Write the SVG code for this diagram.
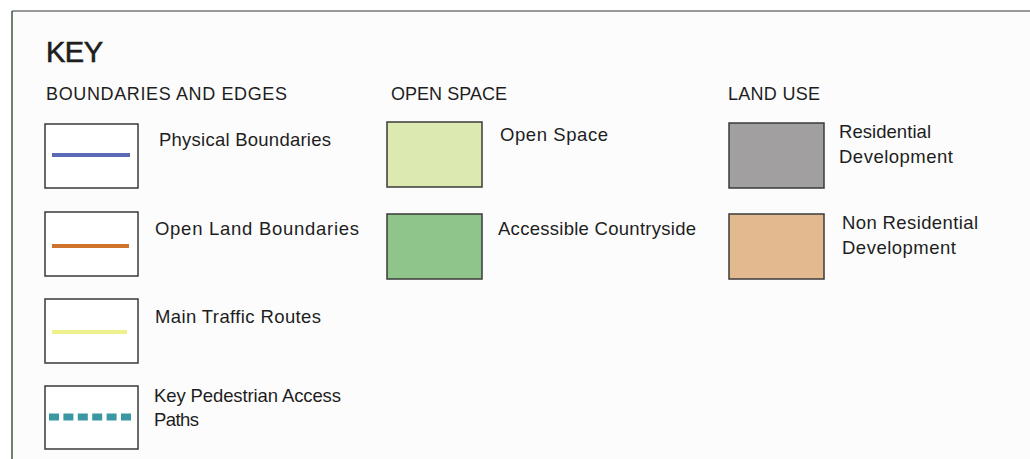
<svg xmlns="http://www.w3.org/2000/svg" width="1030" height="459" viewBox="0 0 1030 459">
<style>
text{font-family:"Liberation Sans","DejaVu Sans",sans-serif;fill:#1e1e1e}
.h{font-size:18px}
.l{font-size:18.5px}
.box{stroke:#3a3a3a;stroke-width:1.5}
</style>
<rect width="1030" height="459" fill="#ffffff"/>
<rect x="12" y="11" width="1018" height="448" fill="#fcfcfc"/>
<line x1="12" y1="11" x2="1030" y2="11" stroke="#777" stroke-width="1.5"/>
<line x1="12" y1="11" x2="12" y2="459" stroke="#3d5a3d" stroke-width="1.5"/>
<text x="46" y="62" font-size="29" stroke="#1e1e1e" stroke-width="0.6" textLength="57">KEY</text>
<text class="h" x="46" y="100" textLength="241">BOUNDARIES AND EDGES</text>
<text class="h" x="391" y="100" textLength="116">OPEN SPACE</text>
<text class="h" x="728" y="100" textLength="92">LAND USE</text>
<g id="physical-boundaries">
<rect class="box" x="45" y="124" width="93" height="64" fill="#fff"/>
<line x1="52" y1="155" x2="130" y2="155" stroke="#5a6ab5" stroke-width="4"/>
<text class="l" x="159" y="146" textLength="172">Physical Boundaries</text>
</g>
<g id="open-land-boundaries">
<rect class="box" x="45" y="212" width="93" height="64" fill="#fff"/>
<line x1="52" y1="246" x2="129" y2="246" stroke="#cf722c" stroke-width="4"/>
<text class="l" x="155" y="235" textLength="204">Open Land Boundaries</text>
</g>
<g id="main-traffic-routes">
<rect class="box" x="45" y="299" width="93" height="64" fill="#fff"/>
<line x1="52" y1="332" x2="127" y2="332" stroke="#eef08c" stroke-width="4"/>
<text class="l" x="155" y="323" textLength="166">Main Traffic Routes</text>
</g>
<g id="key-pedestrian-access-paths">
<rect class="box" x="45" y="386" width="93" height="63" fill="#fff"/>
<line x1="49" y1="417" x2="131" y2="417" stroke="#3a98a2" stroke-width="7" stroke-dasharray="10 4.4"/>
<text class="l" x="154" y="402" textLength="187">Key Pedestrian Access</text>
<text class="l" x="154" y="426" textLength="45">Paths</text>
</g>
<g id="open-space">
<rect class="box" x="387" y="122" width="95" height="65" fill="#dceab1"/>
<text class="l" x="500" y="141" textLength="108">Open Space</text>
</g>
<g id="accessible-countryside">
<rect class="box" x="387" y="214" width="95" height="65" fill="#8fc48a"/>
<text class="l" x="498" y="235" textLength="198">Accessible Countryside</text>
</g>
<g id="residential-development">
<rect class="box" x="729" y="123" width="95" height="65" fill="#a19fa0"/>
<text class="l" x="839" y="138" textLength="92">Residential</text>
<text class="l" x="839" y="163" textLength="114">Development</text>
</g>
<g id="non-residential-development">
<rect class="box" x="729" y="214" width="95" height="65" fill="#e3ba90"/>
<text class="l" x="842" y="229" textLength="136">Non Residential</text>
<text class="l" x="842" y="254" textLength="114">Development</text>
</g>
</svg>
